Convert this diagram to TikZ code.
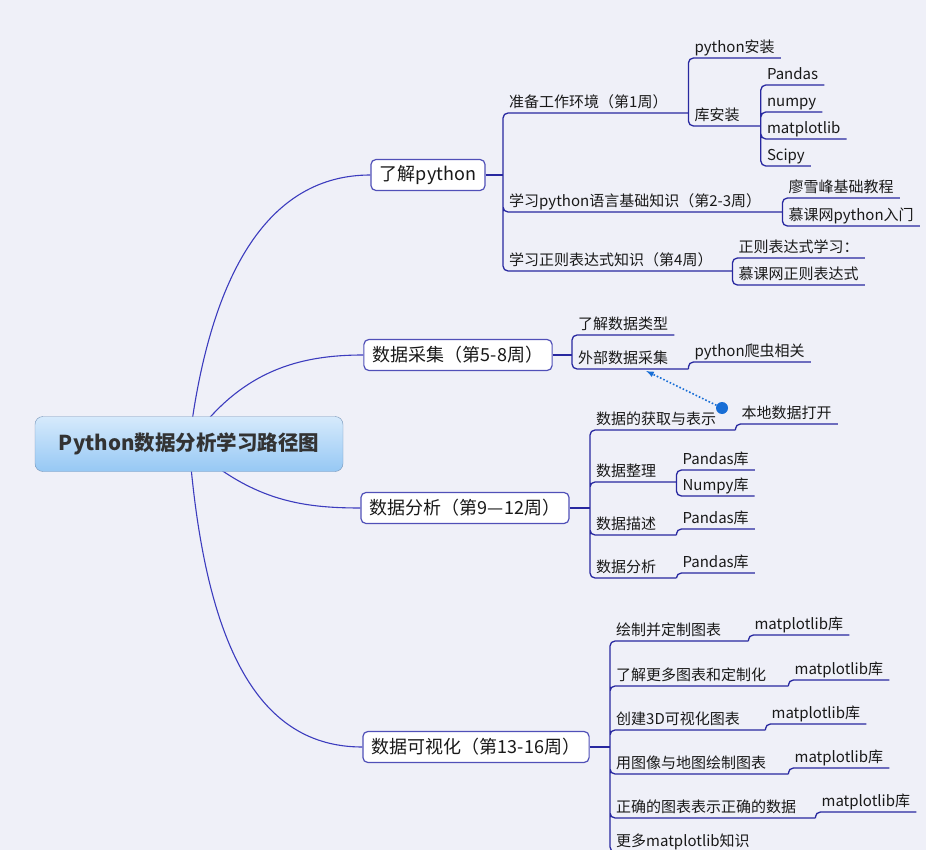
\documentclass[tikz,border=0pt]{standalone}
\usepackage{fontspec}
\setmainfont{Noto Sans CJK SC}
\usetikzlibrary{arrows,backgrounds}
\tikzset{>=latex}
\definecolor{paper}{RGB}{239,240,248}
\definecolor{mapblue}{RGB}{60,60,190}
\definecolor{subblue}{RGB}{40,40,160}
\definecolor{boxline}{RGB}{80,80,184}
\definecolor{roottop}{RGB}{214,234,252}
\definecolor{rootbot}{RGB}{150,200,244}
\definecolor{rootline}{RGB}{120,150,185}
\definecolor{dotblue}{RGB}{24,110,214}
\tikzset{
  rootbox/.style={draw=rootline,top color=roottop,bottom color=rootbot,rounded corners=8pt,
    minimum width=308pt,minimum height=55pt,font=\fontsize{20.5}{24}\selectfont\bfseries,text=black!80},
  topic/.style={draw=boxline,fill=white,line width=1.2pt,rounded corners=5pt,minimum height=31pt,
    inner xsep=9pt,font=\fontsize{18}{20}\selectfont,text=black!90},
  leaf/.style={anchor=south west,align=left,inner xsep=6pt,inner ysep=2pt,text depth=3pt,
    font=\fontsize{15}{17}\selectfont,text=black!90},
  mapcurve/.style={draw=mapblue,line width=1.1pt},
  subline/.style={draw=subblue,line width=1.3pt,rounded corners=5pt}
}
\begin{document}
\begin{tikzpicture}[x=1pt,y=-1pt]
  \useasboundingbox (0,0) rectangle (926,850);
  \node[topic] (t1) at (428,175) {了解python};
  \node[topic] (t2) at (458,355) {数据采集（第5-8周）};
  \node[topic] (t3) at (465,508) {数据分析（第9—12周）};
  \node[topic] (t4) at (476,747) {数据可视化（第13-16周）};

  \node[leaf,text width=173pt] (a1) at (503,113) {准备工作环境（第1周）};
  \node[leaf] (a11) at (a1.south east |- 0,58) {python安装};
  \node[leaf,text width=60pt] (a12) at (a1.south east |- 0,126) {库安装};
  \node[leaf] (a121) at (a12.south east |- 0,85) {Pandas};
  \node[leaf] (a122) at (a12.south east |- 0,112) {numpy};
  \node[leaf] (a123) at (a12.south east |- 0,139) {matplotlib};
  \node[leaf] (a124) at (a12.south east |- 0,166) {Scipy};
  \node[leaf,text width=267pt] (a2) at (503,212) {学习python语言基础知识（第2-3周）};
  \node[leaf] (a21) at (a2.south east |- 0,198) {廖雪峰基础教程};
  \node[leaf] (a22) at (a2.south east |- 0,226) {慕课网python入门};
  \node[leaf,text width=217pt] (a3) at (503,271) {学习正则表达式知识（第4周）};
  \node[leaf] (a31) at (a3.south east |- 0,258) {正则表达式学习：};
  \node[leaf] (a32) at (a3.south east |- 0,285) {慕课网正则表达式};
  \draw[subline] (t1.east) -- (a1.south west |- t1.east);
  \draw[subline] (a1.south west |- t1.east) |- (a1.south east)
    (a1.south west |- t1.east) |- (a2.south east) (a1.south west |- t1.east) |- (a3.south east);
  \draw[subline] (a1.south east) |- (a11.south east) (a1.south east) |- (a12.south east);
  \draw[subline] (a12.south east) |- (a121.south east) (a12.south east) |- (a122.south east)
    (a12.south east) |- (a123.south east) (a12.south east) |- (a124.south east);
  \draw[subline] (a2.south east) |- (a21.south east) (a2.south east) |- (a22.south east);
  \draw[subline] (a3.south east) |- (a31.south east) (a3.south east) |- (a32.south east);

  \node[leaf] (b1) at (572,335) {了解数据类型};
  \node[leaf,text width=104pt] (b2) at (572,369) {外部数据采集};
  \node[leaf] (b21) at (b2.south east |- 0,362) {python爬虫相关};
  \draw[subline] (t2.east) -- (b1.south west |- t2.east);
  \draw[subline] (b1.south west |- t2.east) |- (b1.south east)
    (b1.south west |- t2.east) |- (b2.south east);
  \draw[subline] (b2.south east) |- (b21.south east);

  \node[leaf,text width=133pt] (c1) at (590,430) {数据的获取与表示};
  \node[leaf] (c11) at (c1.south east |- 0,424) {本地数据打开};
  \node[leaf,text width=74pt] (c2) at (590,482) {数据整理};
  \node[leaf] (c21) at (c2.south east |- 0,470) {Pandas库};
  \node[leaf] (c22) at (c2.south east |- 0,496) {Numpy库};
  \node[leaf,text width=74pt] (c3) at (590,535) {数据描述};
  \node[leaf] (c31) at (c3.south east |- 0,529) {Pandas库};
  \node[leaf,text width=74pt] (c4) at (590,578) {数据分析};
  \node[leaf] (c41) at (c4.south east |- 0,573) {Pandas库};
  \draw[subline] (t3.east) -- (c1.south west |- t3.east);
  \draw[subline] (c1.south west |- t3.east) |- (c1.south east)
    (c1.south west |- t3.east) |- (c2.south east) (c1.south west |- t3.east) |- (c3.south east)
    (c1.south west |- t3.east) |- (c4.south east);
  \draw[subline] (c1.south east) |- (c11.south east);
  \draw[subline] (c2.south east) |- (c21.south east) (c2.south east) |- (c22.south east);
  \draw[subline] (c3.south east) |- (c31.south east);
  \draw[subline] (c4.south east) |- (c41.south east);

  \node[leaf,text width=126pt] (d1) at (610,641) {绘制并定制图表};
  \node[leaf] (d11) at (d1.south east |- 0,635) {matplotlib库};
  \node[leaf,text width=166pt] (d2) at (610,686) {了解更多图表和定制化};
  \node[leaf] (d21) at (d2.south east |- 0,680) {matplotlib库};
  \node[leaf,text width=143pt] (d3) at (610,730) {创建3D可视化图表};
  \node[leaf] (d31) at (d3.south east |- 0,724) {matplotlib库};
  \node[leaf,text width=166pt] (d4) at (610,774) {用图像与地图绘制图表};
  \node[leaf] (d41) at (d4.south east |- 0,768) {matplotlib库};
  \node[leaf,text width=193pt] (d5) at (610,818) {正确的图表表示正确的数据};
  \node[leaf] (d51) at (d5.south east |- 0,812) {matplotlib库};
  \node[leaf] (d6) at (610,852) {更多matplotlib知识};
  \draw[subline] (t4.east) -- (d1.south west |- t4.east);
  \draw[subline] (d1.south west |- t4.east) |- (d1.south east)
    (d1.south west |- t4.east) |- (d2.south east) (d1.south west |- t4.east) |- (d3.south east)
    (d1.south west |- t4.east) |- (d4.south east) (d1.south west |- t4.east) |- (d5.south east)
    (d1.south west |- t4.east) |- (d6.south east);
  \draw[subline] (d1.south east) |- (d11.south east);
  \draw[subline] (d2.south east) |- (d21.south east);
  \draw[subline] (d3.south east) |- (d31.south east);
  \draw[subline] (d4.south east) |- (d41.south east);
  \draw[subline] (d5.south east) |- (d51.south east);

  \node[circle,fill=dotblue,inner sep=0pt,minimum size=12pt] (dot) at (722,408) {};
  \draw[dotblue,dotted,line width=1.6pt,->] (dot) -- ([xshift=16pt,yshift=-2pt]b2.south);

  \node[rootbox] (root) at (189,444) {Python数据分析学习路径图};
  \begin{pgfonlayer}{background}
    \fill[paper] (0,0) rectangle (926,850);
    \draw[mapcurve] (root.center) .. controls (210,270) and (270,175) .. (t1.west);
    \draw[mapcurve] (root.center) .. controls (240,370) and (300,355) .. (t2.west);
    \draw[mapcurve] (root.center) .. controls (250,500) and (300,508) .. (t3.west);
    \draw[mapcurve] (root.center) .. controls (205,650) and (260,747) .. (t4.west);
  \end{pgfonlayer}
\end{tikzpicture}
\end{document}
